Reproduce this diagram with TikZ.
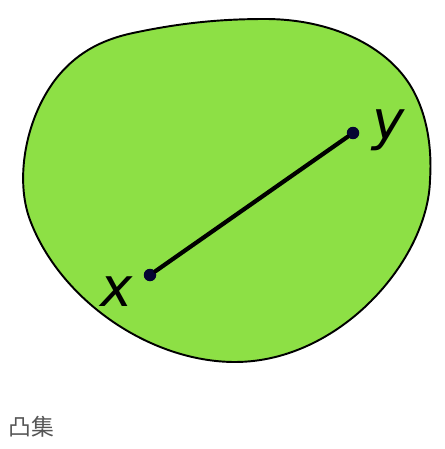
\documentclass[tikz,border=0pt]{standalone}
\usepackage{fontspec}
\setmainfont{DejaVu Sans}
\newfontfamily\cjk{Noto Sans CJK SC}
\definecolor{setgreen}{RGB}{141,224,69}
\definecolor{pointnavy}{RGB}{5,5,50}
\definecolor{captiongray}{RGB}{85,85,85}

\begin{document}
\begin{tikzpicture}[x=0.02cm,y=-0.02cm,line cap=round,line join=round,
    point/.style={circle,fill=pointnavy,inner sep=0pt,minimum size=0.25cm},
    letter/.style={anchor=base,font=\fontsize{31}{31}\selectfont\itshape}]
        \useasboundingbox (0,0) rectangle (444,449);

        % Conjunto convexo
        \draw[fill=setgreen,line width=1.1pt]
            (133,33) .. controls (180,23) and (220,19) .. (265,19)
            .. controls (330,19) and (385,45) .. (410,85)
            .. controls (428,114) and (432,150) .. (430,180)
            .. controls (428,260) and (340,362) .. (235,362)
            .. controls (150,362) and (60,300) .. (30,220)
            .. controls (15,180) and (25,120) .. (55,80)
            .. controls (75,54) and (100,40) .. (133,33) -- cycle;

        % Puntos x e y
        \node[point] (px) at (150,275) {};
        \node[point] (py) at (353,133) {};
        \draw[line width=2.4pt] (px) -- (py);
        \node[letter] (lx) at (117,306) {x};
        \node[letter] (ly) at (389,140) {y};

        \node[anchor=west,inner sep=0pt,text=captiongray,
            font=\cjk\fontsize{13}{13}\selectfont] (cap) at (8,427) {凸集};
    \end{tikzpicture}
\end{document}
